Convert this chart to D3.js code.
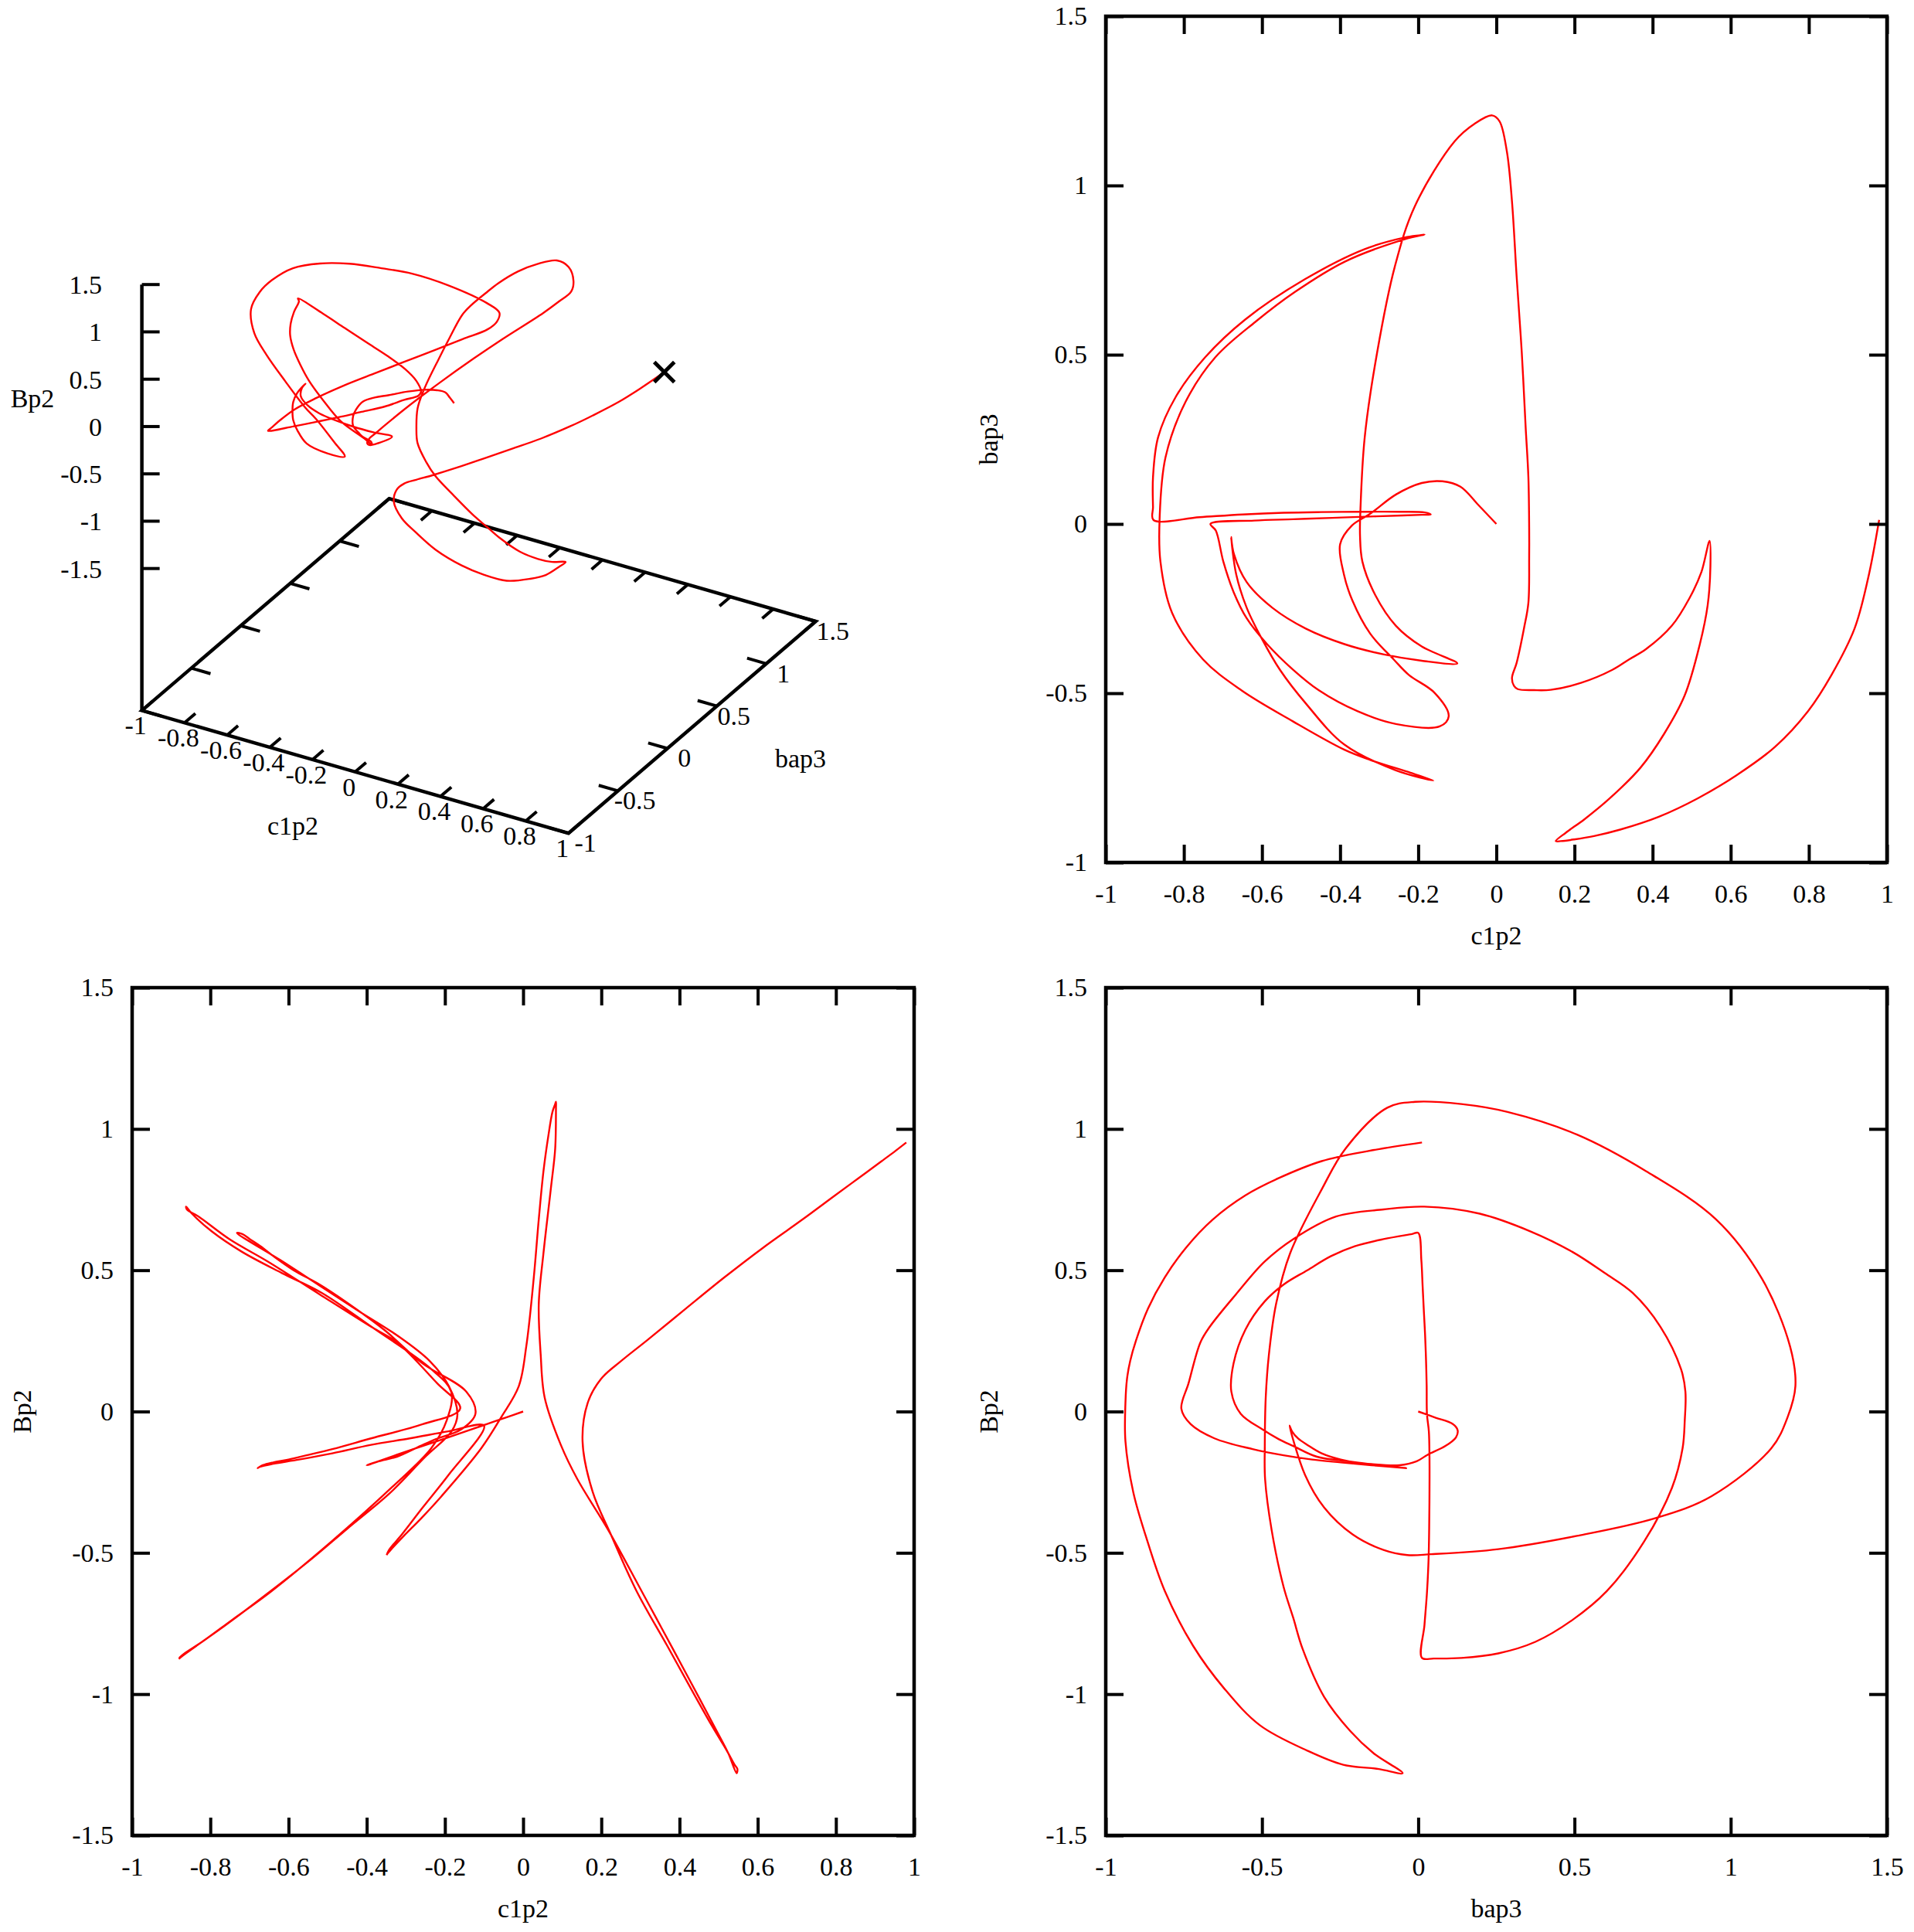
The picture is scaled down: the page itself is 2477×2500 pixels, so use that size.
<!DOCTYPE html>
<html>
<head>
<meta charset="utf-8">
<script src="https://cdn.jsdelivr.net/npm/d3@7"></script>
<style>
body { margin: 0; background: #fff; }
text { font-family: "Liberation Serif", "Times New Roman", serif; font-size: 34px; fill: #000; }
</style>
</head>
<body>
<div id="chart"></div>
<script>
// one trajectory (c1p2, bap3, Bp2)
var c1p2 = [0, -0.046, -0.092, -0.138, -0.191, -0.257, -0.323, -0.370, -0.400,
  -0.390, -0.369, -0.323, -0.263, -0.224, -0.158, -0.122, -0.145, -0.257, -0.356, -0.455, -0.521, -0.587, -0.639, -0.672, -0.699, -0.718, -0.732,
  -0.620, -0.520, -0.420, -0.323, -0.240, -0.190, -0.168, -0.183, -0.250, -0.341, -0.450, -0.545, -0.650, -0.760, -0.878,
  -0.879, -0.879, -0.866, -0.821, -0.745, -0.643, -0.490, -0.337, -0.235, -0.195, -0.184,
  -0.235, -0.388, -0.515, -0.617, -0.719, -0.796, -0.847, -0.862, -0.860, -0.830, -0.751, -0.652, -0.521, -0.389, -0.323, -0.220, -0.161,
  -0.257, -0.389, -0.488, -0.554, -0.600, -0.639, -0.666, -0.679,
  -0.672, -0.639, -0.573, -0.488, -0.389, -0.290, -0.191, -0.100,
  -0.191, -0.257, -0.310, -0.343, -0.349, -0.348, -0.337, -0.305, -0.260, -0.209, -0.107, -0.056, -0.011,
  0.008, 0.027, 0.040, 0.052, 0.065, 0.075, 0.082, 0.084,
  0.084, 0.082, 0.071, 0.052, 0.040, 0.045, 0.055, 0.097, 0.139, 0.218, 0.297, 0.340, 0.383, 0.449, 0.495, 0.525, 0.546,
  0.548, 0.541, 0.521, 0.482, 0.429, 0.369, 0.290, 0.226, 0.178, 0.152, 0.165, 0.199, 0.250, 0.317, 0.416, 0.515, 0.614, 0.713, 0.798, 0.858, 0.917, 0.952, 0.980];

var bap3 = [0, 0.056, 0.110, 0.126, 0.121, 0.087, 0.030, -0.005, -0.060,
  -0.150, -0.225, -0.324, -0.400, -0.446, -0.499, -0.568, -0.598, -0.591, -0.553, -0.491, -0.430, -0.355, -0.279, -0.203, -0.111, -0.020, 0.000,
  0.010, 0.014, 0.018, 0.022, 0.025, 0.027, 0.028, 0.034, 0.036, 0.036, 0.035, 0.033, 0.028, 0.020, 0.012,
  0.050, 0.138, 0.256, 0.375, 0.493, 0.604, 0.723, 0.812, 0.846, 0.853, 0.855,
  0.841, 0.775, 0.686, 0.597, 0.493, 0.360, 0.197, 0.019, -0.111, -0.263, -0.400, -0.492, -0.583, -0.667, -0.697, -0.735, -0.758,
  -0.728, -0.652, -0.530, -0.431, -0.340, -0.248, -0.149, -0.039,
  -0.088, -0.172, -0.248, -0.309, -0.355, -0.385, -0.404, -0.412,
  -0.362, -0.301, -0.210, -0.111, -0.035, 0.041, 0.256, 0.508, 0.760, 0.938, 1.130, 1.182, 1.207,
  1.190, 1.100, 0.953, 0.730, 0.508, 0.286, 0.138, -0.010,
  -0.099, -0.233, -0.307, -0.410, -0.455, -0.478, -0.488, -0.491, -0.490, -0.469, -0.431, -0.400, -0.370, -0.301, -0.218, -0.142, -0.050,
  -0.126, -0.240, -0.355, -0.507, -0.621, -0.720, -0.811, -0.872, -0.912, -0.937, -0.937, -0.932, -0.922, -0.903, -0.865, -0.811, -0.743, -0.659, -0.553, -0.446, -0.309, -0.159, 0.012];

var bp2 = [0, -0.022, -0.044, -0.066, -0.091, -0.122, -0.153, -0.176, -0.190,
  -0.186, -0.176, -0.160, -0.122, -0.098, -0.063, -0.008, 0.070, 0.170, 0.290, 0.390, 0.450, 0.500, 0.550, 0.585, 0.610, 0.628, 0.632,
  0.535, 0.445, 0.355, 0.270, 0.180, 0.090, -0.010, -0.070, -0.160, -0.289, -0.415, -0.526, -0.640, -0.755, -0.872,
  -0.874, -0.872, -0.856, -0.815, -0.738, -0.635, -0.460, -0.270, -0.130, -0.030, 0.070,
  0.150, 0.300, 0.420, 0.490, 0.565, 0.637, 0.700, 0.725, 0.715, 0.690, 0.610, 0.530, 0.415, 0.300, 0.245, 0.100, 0.010,
  -0.045, -0.095, -0.133, -0.155, -0.170, -0.180, -0.190, -0.200,
  -0.195, -0.185, -0.170, -0.148, -0.118, -0.095, -0.070, -0.050,
  -0.225, -0.340, -0.435, -0.490, -0.508, -0.505, -0.487, -0.440, -0.377, -0.300, -0.130, -0.020, 0.090,
  0.230, 0.470, 0.680, 0.850, 0.980, 1.060, 1.088, 1.096,
  1.075, 0.930, 0.790, 0.560, 0.380, 0.200, 0.050, -0.120, -0.240, -0.420, -0.620, -0.730, -0.840, -1.010, -1.130, -1.210, -1.280,
  -1.265, -1.250, -1.200, -1.110, -0.980, -0.830, -0.635, -0.440, -0.285, -0.105, 0.030, 0.115, 0.178, 0.252, 0.364, 0.475, 0.580, 0.678, 0.765, 0.826, 0.886, 0.922, 0.952];

var c1p2Ticks = [-1, -0.8, -0.6, -0.4, -0.2, 0, 0.2, 0.4, 0.6, 0.8, 1];
var bap3Ticks = [-1, -0.5, 0, 0.5, 1, 1.5];
var bp2Ticks = [-1.5, -1, -0.5, 0, 0.5, 1, 1.5];

var points = c1p2.map(function(d, i) {
  return {c1p2: d, bap3: bap3[i], bp2: bp2[i]};
});

var fmt = function(d) { return String(+d.toFixed(2)); };

var svg = d3.select("#chart").append("svg")
  .attr("width", 2477)
  .attr("height", 2500);

svg.append("rect").attr("width", 2477).attr("height", 2500).attr("fill", "#fff");

// 2d projections
var panels = [
  {left: 1431, right: 2442, top: 21, bottom: 1116, xKey: "c1p2", yKey: "bap3",
   xDomain: [-1, 1], yDomain: [-1, 1.5], xTicks: c1p2Ticks, yTicks: bap3Ticks,
   xTitle: "c1p2", yTitle: "bap3", xTitleY: 1222, yTitleX: 1291},
  {left: 171, right: 1183, top: 1278, bottom: 2375, xKey: "c1p2", yKey: "bp2",
   xDomain: [-1, 1], yDomain: [-1.5, 1.5], xTicks: c1p2Ticks, yTicks: bp2Ticks,
   xTitle: "c1p2", yTitle: "Bp2", xTitleY: 2481, yTitleX: 40},
  {left: 1431, right: 2442, top: 1278, bottom: 2375, xKey: "bap3", yKey: "bp2",
   xDomain: [-1, 1.5], yDomain: [-1.5, 1.5], xTicks: bap3Ticks, yTicks: bp2Ticks,
   xTitle: "bap3", yTitle: "Bp2", xTitleY: 2481, yTitleX: 1291}
];

panels.forEach(function(p) {
  var x = d3.scaleLinear().domain(p.xDomain).range([p.left, p.right]);
  var y = d3.scaleLinear().domain(p.yDomain).range([p.bottom, p.top]);
  var g = svg.append("g");

  g.append("path")
    .datum(points)
    .attr("fill", "none")
    .attr("stroke", "#ff0000")
    .attr("stroke-width", 2.4)
    .attr("d", d3.line()
      .x(function(d) { return x(d[p.xKey]); })
      .y(function(d) { return y(d[p.yKey]); })
      .curve(d3.curveCatmullRom.alpha(0.5)));

  var axes = [
    g.append("g").attr("transform", "translate(0," + p.bottom + ")")
      .call(d3.axisBottom(x).tickValues(p.xTicks).tickFormat(fmt).tickSize(-23).tickPadding(28)),
    g.append("g").attr("transform", "translate(0," + p.top + ")")
      .call(d3.axisTop(x).tickValues(p.xTicks).tickFormat("").tickSize(-23)),
    g.append("g").attr("transform", "translate(" + p.left + ",0)")
      .call(d3.axisLeft(y).tickValues(p.yTicks).tickFormat(fmt).tickSize(-23).tickPadding(24)),
    g.append("g").attr("transform", "translate(" + p.right + ",0)")
      .call(d3.axisRight(y).tickValues(p.yTicks).tickFormat("").tickSize(-23))
  ];
  axes.forEach(function(a) {
    a.select(".domain").remove();
    a.selectAll(".tick line").attr("stroke", "#000").attr("stroke-width", 4);
  });

  g.append("rect")
    .attr("x", p.left).attr("y", p.top)
    .attr("width", p.right - p.left).attr("height", p.bottom - p.top)
    .attr("fill", "none").attr("stroke", "#000").attr("stroke-width", 4.5);

  g.append("text")
    .attr("x", (p.left + p.right) / 2).attr("y", p.xTitleY)
    .attr("text-anchor", "middle")
    .text(p.xTitle);

  g.append("text")
    .attr("transform", "translate(" + p.yTitleX + "," + (p.top + p.bottom) / 2 + ") rotate(-90)")
    .attr("text-anchor", "middle")
    .text(p.yTitle);
});

// 3d view (gnuplot default 60,30)
var u = d3.scaleLinear().domain([-1, 1]).range([0, 1]);
var v = d3.scaleLinear().domain([-1, 1.5]).range([0, 1]);
var zs = d3.scaleLinear().domain([-3, 1.5]).range([919.4, 368.2]);
var ox = 183.6;
var ex = [552.1, 158.8], ey = [320, -274.2];

function proj(c, b, z) {
  return [ox + u(c) * ex[0] + v(b) * ey[0],
          zs(z) + u(c) * ex[1] + v(b) * ey[1]];
}

var g3 = svg.append("g");
var base = [[-1, -1], [1, -1], [1, 1.5], [-1, 1.5]];
g3.append("path")
  .attr("d", d3.line()(base.map(function(d) { return proj(d[0], d[1], -3); })) + "Z")
  .attr("fill", "none").attr("stroke", "#000").attr("stroke-width", 4.5);

g3.append("line")
  .attr("x1", ox).attr("x2", ox)
  .attr("y1", zs(-3)).attr("y2", zs(1.5))
  .attr("stroke", "#000").attr("stroke-width", 4.5);

var tk = [];
c1p2Ticks.forEach(function(c) {
  tk.push([proj(c, -1, -3), proj(c, -1 + 0.11, -3)]);
  tk.push([proj(c, 1.5, -3), proj(c, 1.5 - 0.11, -3)]);
});
bap3Ticks.forEach(function(b) {
  tk.push([proj(-1, b, -3), proj(-1 + 0.09, b, -3)]);
  tk.push([proj(1, b, -3), proj(1 - 0.09, b, -3)]);
});
bp2Ticks.forEach(function(z) {
  tk.push([[ox, zs(z)], [ox + 23, zs(z)]]);
});
g3.selectAll("line.tk")
  .data(tk)
  .enter().append("line")
  .attr("class", "tk")
  .attr("x1", function(d) { return d[0][0]; }).attr("y1", function(d) { return d[0][1]; })
  .attr("x2", function(d) { return d[1][0]; }).attr("y2", function(d) { return d[1][1]; })
  .attr("stroke", "#000").attr("stroke-width", 4);

g3.selectAll("text.xl")
  .data(c1p2Ticks)
  .enter().append("text")
  .attr("class", "xl")
  .attr("x", function(d) { return proj(d, -1, -3)[0] - 8; })
  .attr("y", function(d) { return proj(d, -1, -3)[1] + 19; })
  .attr("dy", "0.35em")
  .attr("text-anchor", "middle")
  .text(fmt);

g3.selectAll("text.yl")
  .data(bap3Ticks)
  .enter().append("text")
  .attr("class", "yl")
  .attr("x", function(d) { return proj(1, d, -3)[0] + 22; })
  .attr("y", function(d) { return proj(1, d, -3)[1] + 12; })
  .attr("dy", "0.35em")
  .attr("text-anchor", "middle")
  .text(fmt);

g3.selectAll("text.zl")
  .data(bp2Ticks)
  .enter().append("text")
  .attr("class", "zl")
  .attr("x", 132)
  .attr("y", function(d) { return zs(d); })
  .attr("dy", "0.35em")
  .attr("text-anchor", "end")
  .text(fmt);

g3.append("text").attr("x", 42).attr("y", 527).attr("text-anchor", "middle").text("Bp2");
g3.append("text").attr("x", 379).attr("y", 1080).attr("text-anchor", "middle").text("c1p2");
g3.append("text").attr("x", 1036).attr("y", 993).attr("text-anchor", "middle").text("bap3");

g3.append("path")
  .datum(points)
  .attr("fill", "none")
  .attr("stroke", "#ff0000")
  .attr("stroke-width", 2.4)
  .attr("d", d3.line()
    .x(function(d) { return proj(d.c1p2, d.bap3, d.bp2)[0]; })
    .y(function(d) { return proj(d.c1p2, d.bap3, d.bp2)[1]; })
    .curve(d3.curveCatmullRom.alpha(0.5)));

var last = points[points.length - 1];
var end = proj(last.c1p2, last.bap3, last.bp2);
g3.append("path")
  .attr("transform", "translate(" + end[0] + "," + end[1] + ")")
  .attr("d", "M-13,-13L13,13M-13,13L13,-13")
  .attr("stroke", "#000").attr("stroke-width", 5);
</script>
</body>
</html>
